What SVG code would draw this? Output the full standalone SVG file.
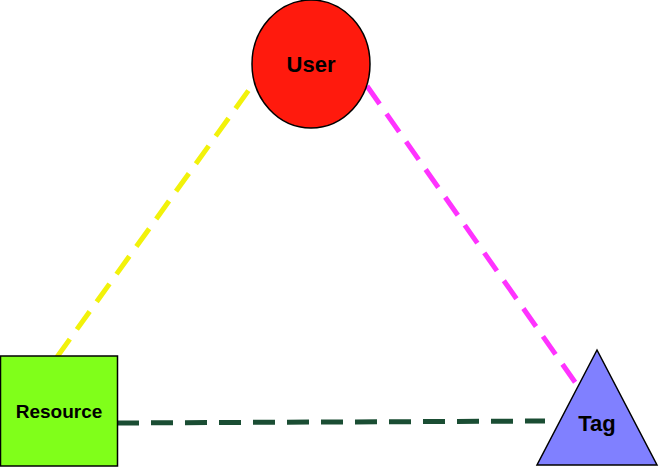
<svg xmlns="http://www.w3.org/2000/svg" width="659" height="467" viewBox="0 0 659 467">
<style>
.l{stroke-width:5;stroke-dasharray:22,12;fill:none}
.t{font-family:"Liberation Sans",Arial,sans-serif;font-weight:bold;fill:#000}
</style>
<rect width="659" height="467" fill="#fff"/>
<g id="connectors">
<line class="l" x1="57" y1="357" x2="256" y2="80" stroke="#f2f20a"/>
<line class="l" x1="367" y1="86" x2="582" y2="392" stroke="#ff33ff"/>
<line class="l" x1="117" y1="423" x2="545" y2="421" stroke="#1a4d33"/>
</g>
<g id="user">
<ellipse cx="311" cy="64" rx="59" ry="64" fill="#ff1a0d" stroke="#000" stroke-width="1.5"/>
<text class="t" x="311" y="72" font-size="22" text-anchor="middle">User</text>
</g>
<g id="resource">
<rect x="0.5" y="356" width="117" height="110" fill="#80ff1a" stroke="#000" stroke-width="1.5"/>
<text class="t" x="59" y="418" font-size="19" text-anchor="middle">Resource</text>
</g>
<g id="tag">
<polygon points="597,350 657,465 537,465" fill="#8080ff" stroke="#000" stroke-width="1.5"/>
<text class="t" x="597" y="431" font-size="22" text-anchor="middle">Tag</text>
</g>
</svg>
